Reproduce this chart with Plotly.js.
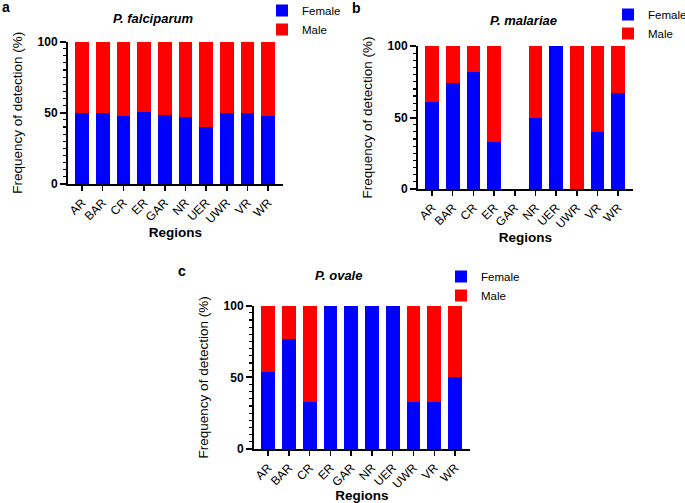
<!DOCTYPE html>
<html><head><meta charset="utf-8">
<script src="https://cdn.plot.ly/plotly-3.0.1.min.js"></script>
<style>html,body{margin:0;padding:0;background:#fff}#chart{width:685px;height:503px}</style>
</head><body><div id="chart"></div>
<script>
const regions = ['AR','BAR','CR','ER','GAR','NR','UER','UWR','VR','WR'];
const falciparumFemale = [50,50,48,50.5,48.5,47,40,50,49.5,48];
const falciparumMale = [50,50,52,49.5,51.5,53,60,50,50.5,52];
const malariaeFemale = [61,74,82,33,0,50,100,0,40,67];
const malariaeMale = [39,26,18,67,0,50,0,100,60,33];
const ovaleFemale = [54,77,33,100,100,100,100,33,33,50];
const ovaleMale = [46,23,67,0,0,0,0,67,67,50];
const panelTitles = ['P. falciparum','P. malariae','P. ovale'];
const panelLetters = ['a','b','c'];
const seriesNames = ['Female','Male'];
const BLUE = '#0000FF', RED = '#FF0000';
const FONT = 'Liberation Sans, Arial, sans-serif';

const W = 685, H = 503;
function px(x){return x/W;}
function py(y){return 1 - y/H;}

const panels = [
  {f: falciparumFemale, m: falciparumMale, xa:'x', ya:'y', lg:'legend',
   xd:[68,283], yd:[184,41.5], leg:[262,-4], title:[153,18], letter:[6,7]},
  {f: malariaeFemale, m: malariaeMale, xa:'x2', ya:'y2', lg:'legend2',
   xd:[418,633], yd:[189,46], leg:[608,0], title:[523,21], letter:[356,8]},
  {f: ovaleFemale, m: ovaleMale, xa:'x3', ya:'y3', lg:'legend3',
   xd:[254,470], yd:[449,305.7], leg:[441,262], title:[338,275], letter:[182,271]}
];

const data = [];
const layout = {
  width: W, height: H, margin:{l:0,r:0,t:0,b:0,autoexpand:false},
  paper_bgcolor:'#fff', plot_bgcolor:'rgba(0,0,0,0)',
  barmode:'stack', bargap:0.34,
  font:{family:FONT, color:'#000'},
  annotations:[], showlegend:true
};

panels.forEach((p,i)=>{
  const sfx = i===0 ? '' : String(i+1);
  data.push({type:'bar', x:regions, y:p.f, name:seriesNames[0], xaxis:p.xa, yaxis:p.ya,
    legend:p.lg, marker:{color:BLUE, line:{width:0}}, hoverinfo:'none'});
  data.push({type:'bar', x:regions, y:p.m, name:seriesNames[1], xaxis:p.xa, yaxis:p.ya,
    legend:p.lg, marker:{color:RED, line:{width:0}}, hoverinfo:'none'});
  layout['xaxis'+sfx] = {
    domain:[px(p.xd[0]), px(p.xd[1])], anchor:'y'+sfx, type:'category',
    range:[-0.68, 9.72], tickangle:-45, ticks:'outside', ticklen:5, tickwidth:1.5,
    tickcolor:'#000', showline:true, linewidth:2, linecolor:'#000', showgrid:false,
    zeroline:false, tickfont:{size:12, color:'#000', family:FONT}, automargin:false,
    title:{text:'<b>Regions</b>', font:{size:13.5, family:FONT, color:'#000'}, standoff:3},
    fixedrange:true
  };
  layout['yaxis'+sfx] = {
    domain:[py(p.yd[0]), py(p.yd[1])], anchor:'x'+sfx, range:[0,100],
    tickmode:'array', tickvals:[0,50,100], ticktext:['<b>0</b>','<b>50</b>','<b>100</b>'],
    ticks:'outside', ticklen:6, tickwidth:2, tickcolor:'#000',
    minor:{tick0:0, dtick:5, ticks:'outside', ticklen:3, tickwidth:1.2, tickcolor:'#000', showgrid:false},
    showline:true, linewidth:2, linecolor:'#000', showgrid:false, zeroline:false,
    tickfont:{size:12, color:'#000', family:FONT}, automargin:false,
    title:{text:'Frequency of detection (%)', font:{size:13.5, family:FONT, color:'#000'}, standoff:12},
    fixedrange:true
  };
  layout[p.lg] = {
    x:px(p.leg[0]), y:py(p.leg[1]), xanchor:'left', yanchor:'top',
    bgcolor:'rgba(0,0,0,0)', borderwidth:0, font:{size:11.5, family:FONT, color:'#000'},
    tracegroupgap:0, itemclick:false, itemdoubleclick:false, traceorder:'normal'
  };
  layout.annotations.push({
    xref:'paper', yref:'paper', x:px(p.title[0]), y:py(p.title[1]),
    xanchor:'center', yanchor:'middle', showarrow:false,
    text:'<b><i>'+panelTitles[i]+'</i></b>', font:{size:13, family:FONT, color:'#000'}
  });
  layout.annotations.push({
    xref:'paper', yref:'paper', x:px(p.letter[0]), y:py(p.letter[1]),
    xanchor:'center', yanchor:'middle', showarrow:false,
    text:'<b>'+panelLetters[i]+'</b>', font:{size:14, family:FONT, color:'#000'}
  });
});

Plotly.newPlot('chart', data, layout, {staticPlot:true, displayModeBar:false});
</script>
</body></html>
